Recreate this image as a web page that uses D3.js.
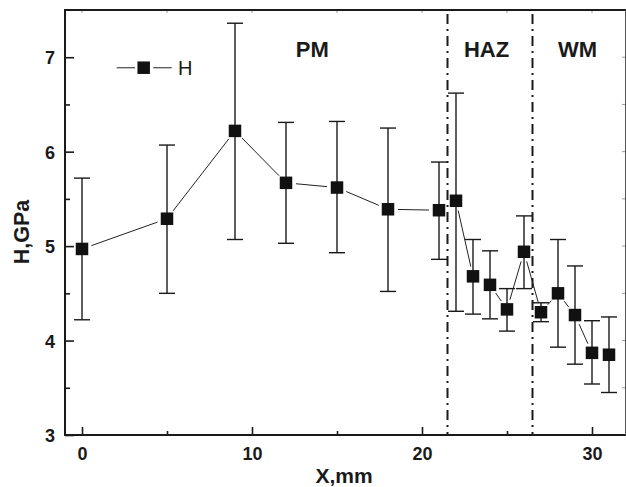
<!DOCTYPE html>
<html><head><meta charset="utf-8">
<script src="https://d3js.org/d3.v7.min.js"></script>
<style>body{margin:0;background:#fff}svg{display:block}text{font-family:"Liberation Sans",Arial,sans-serif}</style>
</head><body>
<svg id="c" width="626" height="487"></svg>
<script>
// ---- data ----
const xPos = [0,5,9,12,15,18,21,22,23,24,25,26,27,28,29,30,31];
const hVal = [4.97,5.29,6.22,5.67,5.62,5.39,5.38,5.48,4.68,4.59,4.33,4.94,4.30,4.50,4.27,3.87,3.85];
const hUpper = [5.72,6.07,7.36,6.31,6.32,6.25,5.89,6.62,5.07,4.95,4.55,5.32,4.40,5.07,4.79,4.21,4.25];
const hLower = [4.22,4.50,5.07,5.03,4.93,4.52,4.86,4.31,4.28,4.23,4.10,4.55,4.20,3.93,3.75,3.54,3.45];
const xTicks = [0,10,20,30];
const xMinor = [5,15,25];
const yTicks = [3,4,5,6,7];
const yMinor = [3.5,4.5,5.5,6.5];
const zoneBounds = [21.5,26.5];
const zoneLabels = ["PM","HAZ","WM"];
const zoneLabelX = [13.55,23.8,29.15];
const seriesName = "H";
const xTitle = "X,mm", yTitle = "H,GPa";

// ---- layout ----
const svg = d3.select("#c");
const L=65, T=10, R=626, B=435;
const x = d3.scaleLinear().domain([-1,32]).range([L,R]);
const y = d3.scaleLinear().domain([3,7.5]).range([B,T]);
const ink = "#1a1a1a";

// mirrored faint ticks (top/right)
svg.append("g").selectAll("line").data(xTicks.concat(xMinor)).join("line")
  .attr("x1",d=>x(d)).attr("x2",d=>x(d)).attr("y1",T).attr("y2",T+3)
  .attr("stroke","#999").attr("stroke-width",1);
svg.append("g").selectAll("line").data(yTicks.concat(yMinor)).join("line")
  .attr("x1",R-0.5).attr("x2",R-4).attr("y1",d=>y(d)).attr("y2",d=>y(d))
  .attr("stroke","#999").attr("stroke-width",1);

// axes via d3
const xAx = svg.append("g").attr("transform",`translate(0,${B})`)
  .call(d3.axisBottom(x).tickValues(xTicks).tickSize(-8).tickPadding(12).tickFormat(d3.format("d")));
const xAxMin = svg.append("g").attr("transform",`translate(0,${B})`)
  .call(d3.axisBottom(x).tickValues(xMinor).tickSize(-4).tickFormat(""));
const yAx = svg.append("g").attr("transform",`translate(${L},0)`)
  .call(d3.axisLeft(y).tickValues(yTicks).tickSize(-9).tickPadding(10).tickFormat(d3.format("d")));
const yAxMin = svg.append("g").attr("transform",`translate(${L},0)`)
  .call(d3.axisLeft(y).tickValues(yMinor).tickSize(-5).tickFormat(""));
[xAx,xAxMin,yAx,yAxMin].forEach(g=>{
  g.select(".domain").remove();
  g.selectAll(".tick line").attr("stroke",ink).attr("stroke-width",1.6);
  g.selectAll("text").attr("fill",ink).attr("font-size",18).attr("font-weight","bold")
   .attr("font-family",'"Liberation Sans",Arial,sans-serif');
});
yAx.selectAll("text").attr("dy","0.36em");

// frame
svg.append("line").attr("x1",L).attr("x2",R).attr("y1",T).attr("y2",T).attr("stroke",ink).attr("stroke-width",2.2);
svg.append("line").attr("x1",L).attr("x2",R).attr("y1",B).attr("y2",B).attr("stroke",ink).attr("stroke-width",2);
svg.append("line").attr("x1",L).attr("x2",L).attr("y1",T-1).attr("y2",B+1).attr("stroke",ink).attr("stroke-width",2);
svg.append("line").attr("x1",R-0.5).attr("x2",R-0.5).attr("y1",T).attr("y2",B).attr("stroke","#555").attr("stroke-width",1);

// zone boundaries
svg.append("g").selectAll("line").data(zoneBounds).join("line")
  .attr("x1",d=>x(d)).attr("x2",d=>x(d)).attr("y1",T+4).attr("y2",B)
  .attr("stroke",ink).attr("stroke-width",2).attr("stroke-dasharray","10,5,2,5");

// zone labels
svg.append("g").selectAll("text").data(zoneLabels).join("text")
  .attr("x",(d,i)=>x(zoneLabelX[i])).attr("y",56.5).attr("text-anchor","middle")
  .attr("font-size",22).attr("font-weight","bold").attr("fill",ink).text(d=>d);

const pts = xPos.map((d,i)=>({x:d,v:hVal[i],hi:hUpper[i],lo:hLower[i]}));

// error bars
const eb = svg.append("g").attr("stroke",ink).attr("stroke-width",1.4);
pts.forEach(p=>{
  const cx=x(p.x);
  eb.append("line").attr("x1",cx).attr("x2",cx).attr("y1",y(p.hi)).attr("y2",y(p.lo));
  eb.append("line").attr("x1",cx-8).attr("x2",cx+8).attr("y1",y(p.hi)).attr("y2",y(p.hi));
  eb.append("line").attr("x1",cx-8).attr("x2",cx+8).attr("y1",y(p.lo)).attr("y2",y(p.lo));
});

// connecting line with gaps around symbols
const gap = 10;
const lg = svg.append("g").attr("stroke","#222").attr("stroke-width",1);
for(let i=0;i<pts.length-1;i++){
  const x1=x(pts[i].x), y1=y(pts[i].v), x2=x(pts[i+1].x), y2=y(pts[i+1].v);
  const dx=x2-x1, dy=y2-y1, len=Math.hypot(dx,dy);
  if(len<=2*gap) continue;
  const ux=dx/len, uy=dy/len;
  lg.append("line").attr("x1",x1+ux*gap).attr("y1",y1+uy*gap)
    .attr("x2",x2-ux*gap).attr("y2",y2-uy*gap);
}

// markers
const ms = 12.5;
svg.append("g").selectAll("rect").data(pts).join("rect")
  .attr("x",d=>x(d.x)-ms/2).attr("y",d=>y(d.v)-ms/2).attr("width",ms).attr("height",ms)
  .attr("fill","#111");

// legend
const lgY = 67.7;
svg.append("line").attr("x1",116.7).attr("x2",135).attr("y1",lgY).attr("y2",lgY).attr("stroke","#555").attr("stroke-width",1.3);
svg.append("line").attr("x1",153.3).attr("x2",171.7).attr("y1",lgY).attr("y2",lgY).attr("stroke","#555").attr("stroke-width",1.3);
svg.append("rect").attr("x",143.7-ms/2).attr("y",lgY-ms/2).attr("width",ms).attr("height",ms).attr("fill","#111");
svg.append("text").attr("x",178).attr("y",75.3).attr("font-size",20).attr("fill",ink).text(seriesName);

// axis titles
svg.append("text").attr("x",344).attr("y",482.5).attr("text-anchor","middle")
  .attr("font-size",21).attr("font-weight","bold").attr("fill",ink).text(xTitle);
svg.append("text").attr("transform","translate(29,232) rotate(-90)").attr("text-anchor","middle")
  .attr("font-size",21.5).attr("font-weight","bold").attr("fill",ink).text(yTitle);
</script>
</body></html>
